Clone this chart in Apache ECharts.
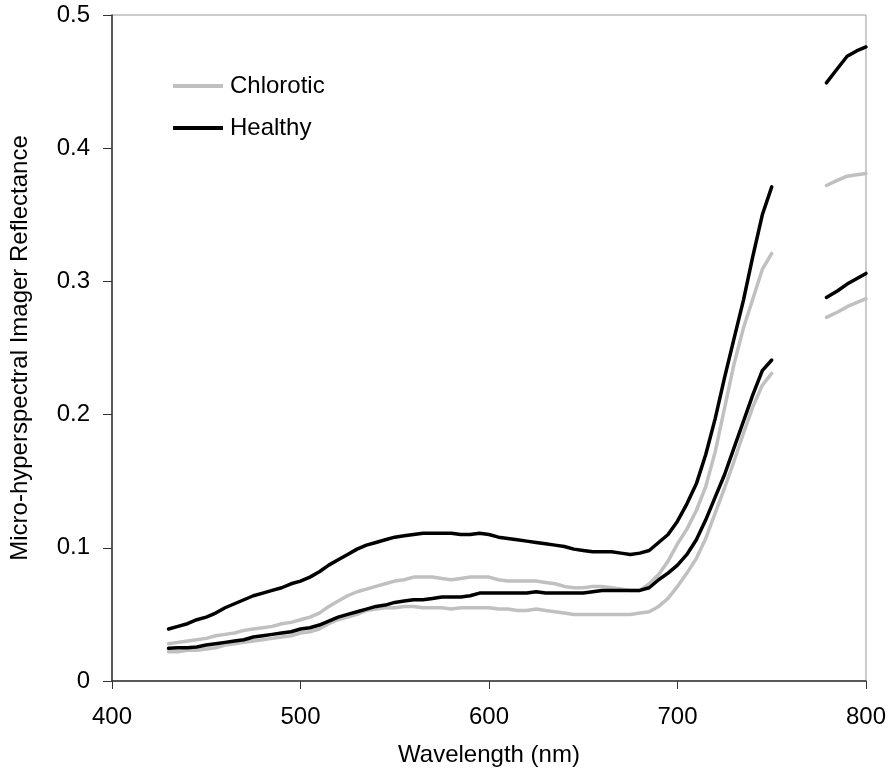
<!DOCTYPE html>
<html>
<head>
<meta charset="utf-8">
<script src="https://cdn.jsdelivr.net/npm/echarts@6/dist/echarts.min.js"></script>
<style>
html,body{margin:0;padding:0;background:#fff;}
#chart{width:889px;height:773px;}
</style>
</head>
<body>
<div id="chart"></div>
<script>
// Wavelengths (nm): visible segment and NIR segment
var wlA = [430,435,440,445,450,455,460,465,470,475,480,485,490,495,500,505,510,515,520,525,530,535,540,545,550,555,560,565,570,575,580,585,590,595,600,605,610,615,620,625,630,635,640,645,650,655,660,665,670,675,680,685,690,695,700,705,710,715,720,725,730,735,740,745,750];
var wlB = [779,785,790,795,800];

// Healthy, upper curve
var healthyUpperA = [0.039,0.041,0.043,0.046,0.048,0.051,0.055,0.058,0.061,0.064,0.066,0.068,0.070,0.073,0.075,0.078,0.082,0.087,0.091,0.095,0.099,0.102,0.104,0.106,0.108,0.109,0.110,0.111,0.111,0.111,0.111,0.110,0.110,0.111,0.110,0.108,0.107,0.106,0.105,0.104,0.103,0.102,0.101,0.099,0.098,0.097,0.097,0.097,0.096,0.095,0.096,0.098,0.104,0.110,0.120,0.133,0.148,0.170,0.197,0.228,0.257,0.286,0.319,0.350,0.371];
var healthyUpperB = [0.449,0.460,0.469,0.473,0.476];

// Chlorotic, upper curve
var chloroticUpperA = [0.028,0.029,0.030,0.031,0.032,0.034,0.035,0.036,0.038,0.039,0.040,0.041,0.043,0.044,0.046,0.048,0.051,0.056,0.060,0.064,0.067,0.069,0.071,0.073,0.075,0.076,0.078,0.078,0.078,0.077,0.076,0.077,0.078,0.078,0.078,0.076,0.075,0.075,0.075,0.075,0.074,0.073,0.071,0.070,0.070,0.071,0.071,0.070,0.069,0.068,0.068,0.073,0.080,0.090,0.103,0.114,0.128,0.146,0.172,0.205,0.238,0.265,0.287,0.309,0.321];
var chloroticUpperB = [0.372,0.376,0.379,0.380,0.381];

// Healthy, lower curve
var healthyLowerA = [0.0245,0.025,0.025,0.0255,0.027,0.028,0.029,0.030,0.031,0.033,0.034,0.035,0.036,0.037,0.039,0.040,0.042,0.045,0.048,0.050,0.052,0.054,0.056,0.057,0.059,0.060,0.061,0.061,0.062,0.063,0.063,0.063,0.064,0.066,0.066,0.066,0.066,0.066,0.066,0.067,0.066,0.066,0.066,0.066,0.066,0.067,0.068,0.068,0.068,0.068,0.068,0.070,0.076,0.081,0.087,0.095,0.106,0.121,0.138,0.155,0.175,0.195,0.215,0.233,0.241];
var healthyLowerB = [0.288,0.293,0.298,0.302,0.306];

// Chlorotic, lower curve
var chloroticLowerA = [0.022,0.022,0.023,0.023,0.024,0.025,0.027,0.028,0.029,0.030,0.031,0.032,0.033,0.034,0.036,0.037,0.039,0.043,0.046,0.048,0.050,0.053,0.054,0.055,0.055,0.056,0.056,0.055,0.055,0.055,0.054,0.055,0.055,0.055,0.055,0.054,0.054,0.053,0.053,0.054,0.053,0.052,0.051,0.050,0.050,0.050,0.050,0.050,0.050,0.050,0.051,0.052,0.056,0.062,0.071,0.081,0.092,0.107,0.126,0.145,0.165,0.186,0.206,0.222,0.231];
var chloroticLowerB = [0.273,0.277,0.281,0.284,0.287];

var xTicks = [400,500,600,700,800];
var yTicks = [0,0.1,0.2,0.3,0.4,0.5];
var seriesNames = ['Chlorotic','Healthy'];
var gapWavelength = 765;

function build(a, b) {
  var d = wlA.map(function (w, i) { return [w, a[i]]; });
  d.push([gapWavelength, null]);
  return d.concat(wlB.map(function (w, i) { return [w, b[i]]; }));
}

var FONT = '"Liberation Sans", Arial, sans-serif';
var GRAY = '#c0c0c0';
var BLACK = '#000000';

function lineSeries(name, color, data) {
  return {
    name: name, type: 'line', data: data, showSymbol: false, symbol: 'none',
    connectNulls: false, smooth: false, animation: false,
    lineStyle: { color: color, width: 3.5, cap: 'round', join: 'round' },
    itemStyle: { color: color }
  };
}

var chart = echarts.init(document.getElementById('chart'), null, { renderer: 'canvas' });
chart.setOption({
  backgroundColor: '#fff',
  animation: false,
  textStyle: { fontFamily: FONT },
  grid: { left: 110, right: 22, top: 15, bottom: 92, show: true, borderColor: '#999', borderWidth: 1, backgroundColor: 'transparent' },
  legend: {
    data: seriesNames,
    orient: 'vertical',
    left: 168, top: 69,
    icon: 'rect', itemWidth: 50, itemHeight: 4, itemGap: 18,
    textStyle: { fontFamily: FONT, fontSize: 24, color: '#000', padding: [0,0,0,2] }
  },
  xAxis: {
    type: 'value', min: xTicks[0], max: xTicks[xTicks.length-1], interval: 100,
    name: 'Wavelength (nm)', nameLocation: 'middle', nameGap: 62,
    nameTextStyle: { fontFamily: FONT, fontSize: 24, color: '#000' },
    axisLine: { show: true, onZero: false, lineStyle: { color: '#333', width: 1.5 } },
    axisTick: { show: true, inside: false, length: 8, lineStyle: { color: '#333' } },
    axisLabel: { fontFamily: FONT, fontSize: 24, color: '#000', margin: 24 },
    splitLine: { show: false }
  },
  yAxis: {
    type: 'value', min: yTicks[0], max: yTicks[yTicks.length-1], interval: 0.1,
    name: 'Micro-hyperspectral Imager Reflectance', nameLocation: 'middle', nameGap: 80, nameRotate: 90,
    nameTextStyle: { fontFamily: FONT, fontSize: 24, color: '#000' },
    axisLine: { show: true, onZero: false, lineStyle: { color: '#333', width: 1.5 } },
    axisTick: { show: true, inside: false, length: 9, lineStyle: { color: '#333' } },
    axisLabel: { fontFamily: FONT, fontSize: 24, color: '#000', margin: 22,
      formatter: function (v) { return v === 0 ? '0' : v.toFixed(1); } },
    splitLine: { show: false }
  },
  series: [
    lineSeries('Chlorotic', GRAY, build(chloroticUpperA, chloroticUpperB)),
    lineSeries('Chlorotic', GRAY, build(chloroticLowerA, chloroticLowerB)),
    lineSeries('Healthy', BLACK, build(healthyUpperA, healthyUpperB)),
    lineSeries('Healthy', BLACK, build(healthyLowerA, healthyLowerB))
  ]
});
</script>
</body>
</html>
